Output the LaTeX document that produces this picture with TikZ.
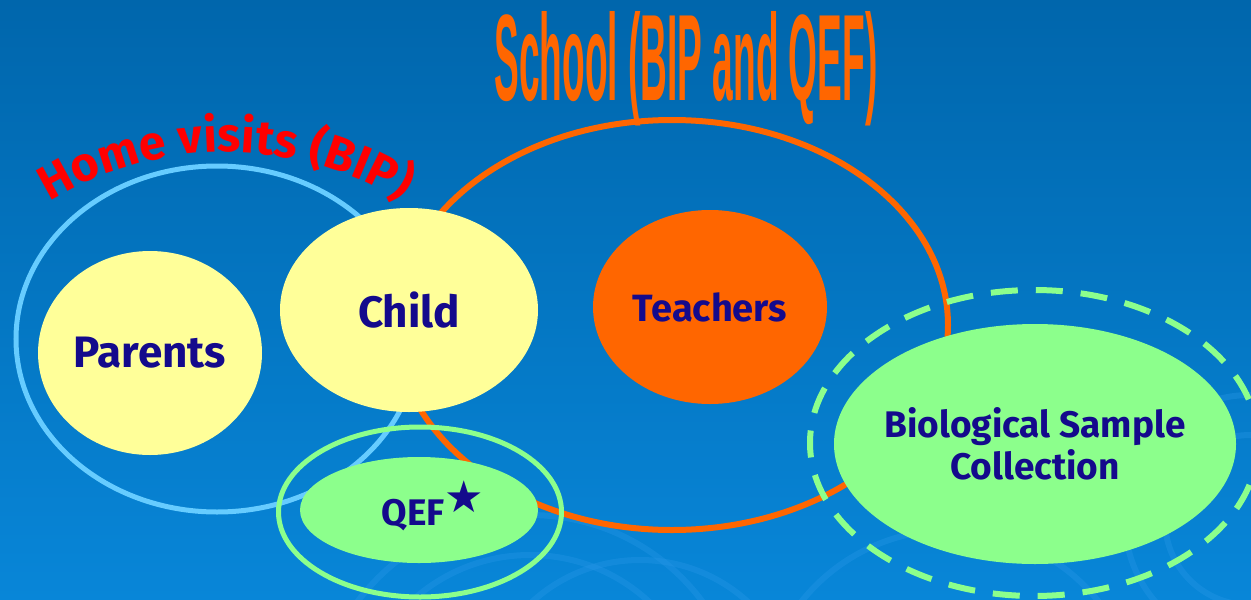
\documentclass[tikz,border=0pt]{standalone}
\usepackage{fontspec}
\setmainfont{Fira Sans}
\newfontfamily\starfont{DejaVu Sans}
\newfontfamily\titlefont{Liberation Sans}
\usetikzlibrary{shapes.geometric,decorations.text}
\definecolor{bgtop}{RGB}{0,102,172}
\definecolor{bgbot}{RGB}{8,134,216}
\definecolor{swirl}{RGB}{40,152,232}
\definecolor{homeblue}{RGB}{102,204,255}
\definecolor{schoolorange}{RGB}{255,102,0}
\definecolor{paleyellow}{RGB}{255,255,153}
\definecolor{lightgreen}{RGB}{140,255,140}
\definecolor{navy}{RGB}{20,10,140}

\begin{document}
\begin{tikzpicture}[x=1pt,y=-1pt]
\tikzstyle{ring}=[ellipse,draw,inner sep=0pt]
\tikzstyle{blob}=[ellipse,inner sep=0pt,text=navy,align=center]
\useasboundingbox (0,0) rectangle (1251,600);
\clip (0,0) rectangle (1251,600);
\shade[top color=bgtop,bottom color=bgbot] (0,0) rectangle (1251,600);
\foreach \cx/\cy/\r in {530/730/175,530/730/215,640/720/160,950/720/190,1250/520/85,1250/520/125}
  \draw[swirl,line width=6pt,opacity=.35] (\cx,\cy) circle[radius=\r];
\node[ring,draw=homeblue,line width=5pt,minimum width=402pt,minimum height=346pt] (home) at (217,339) {};
\node[ring,draw=schoolorange,line width=6pt,minimum width=552pt,minimum height=410pt] (school) at (672,325) {};
\node[ring,draw=lightgreen,line width=6pt,dash pattern=on 27pt off 18pt,minimum width=448pt,minimum height=306pt] (sampling) at (1034,443) {};
\foreach \n/\x/\y/\w/\h/\c/\s/\t in {parents/150/353/224/204/paleyellow/44/Parents,child/409/310/258/204/paleyellow/44/Child,teachers/710/307/234/194/schoolorange/38/Teachers}
  \node[blob,fill=\c,minimum width=\w pt,minimum height=\h pt,font=\fontsize{\s}{\s}\selectfont\bfseries] (\n) at (\x,\y) {\t};
\node[blob,fill=lightgreen,minimum width=402pt,minimum height=240pt] (sample) at (1035,444) {};
\node[text=navy,align=center,font=\fontsize{37}{42}\selectfont\bfseries] (sampletext) at (sample) {Biological Sample\\Collection};
\node[ring,draw=lightgreen,line width=5pt,minimum width=283pt,minimum height=170pt] (qefring) at (420,512) {};
\node[blob,fill=lightgreen,minimum width=238pt,minimum height=106pt] (qef) at (419,510) {};
\node[text=navy,font=\fontsize{37}{37}\selectfont\bfseries] (qeftext) at (433,506) {QEF{\starfont\fontsize{44}{44}\selectfont\raisebox{13pt}{★}}};
\node[text=schoolorange,inner sep=0pt,anchor=base,font=\titlefont\bfseries] (schooltitle) at (686,100) {\resizebox{383pt}{89pt}{School (BIP and QEF)}};
\coordinate (arch) at (226,490);
\path[decorate,decoration={text along path,text align=center,text={|\fontsize{48}{48}\selectfont\bfseries\color{red}|Home visits (BIP)}}] (arch) ++(230:338) arc[start angle=230,end angle=310,radius=338];
\end{tikzpicture}
\end{document}
